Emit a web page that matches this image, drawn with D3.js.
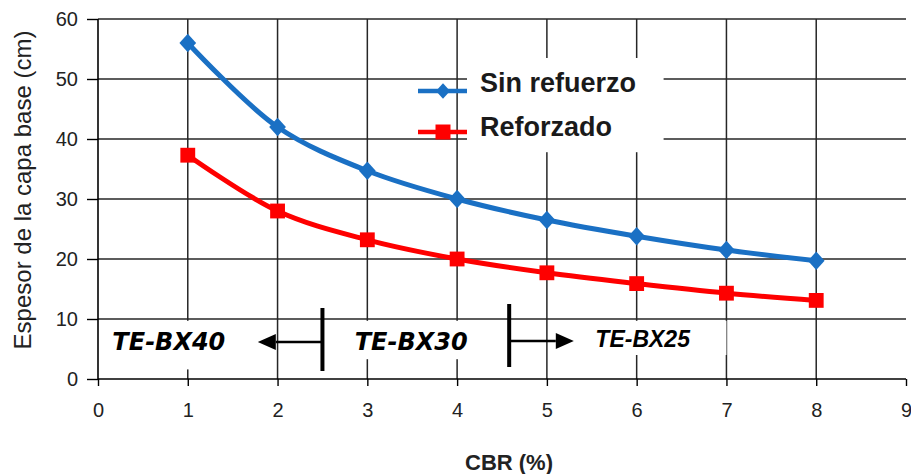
<!DOCTYPE html>
<html>
<head>
<meta charset="utf-8">
<script src="https://cdn.jsdelivr.net/npm/d3@7"></script>
<style>
  html, body { margin: 0; padding: 0; background: #fff; }
  svg { display: block; }
</style>
</head>
<body>
<svg id="chart" width="911" height="474"></svg>
<script>
// ---- data ----
const cbr = [1, 2, 3, 4, 5, 6, 7, 8];
const sinRefuerzo = [56, 42, 34.7, 30, 26.5, 23.8, 21.5, 19.7];
const reforzado = [37.3, 28, 23.2, 20, 17.7, 15.9, 14.3, 13.1];
const seriesNames = ["Sin refuerzo", "Reforzado"];
const xTicks = [0, 1, 2, 3, 4, 5, 6, 7, 8, 9];
const yTicks = [0, 10, 20, 30, 40, 50, 60];
const xTitle = "CBR (%)";
const yTitle = "Espesor de la capa base (cm)";
// geogrid zones (CBR limits between products)
const zoneLimits = [2.5, 4.58];
const zoneLabels = ["TE-BX40", "TE-BX30", "TE-BX25"];

// ---- setup ----
const svg = d3.select("#chart");
const x = d3.scaleLinear().domain([0, 9]).range([98, 906]);
const y = d3.scaleLinear().domain([0, 60]).range([379, 19]);
const blue = "#1a70c4", red = "#fe0000", gridC = "#262626";

// gridlines
const grid = svg.append("g");
grid.selectAll("line.h").data(yTicks.filter(d => d > 0)).join("line")
  .attr("x1", x(0)).attr("x2", x(9)).attr("y1", d => y(d)).attr("y2", d => y(d))
  .attr("stroke", gridC).attr("stroke-width", 1.5);
grid.selectAll("line.v").data(xTicks.filter(d => d > 0 && d < 9)).join("line")
  .attr("x1", d => x(d)).attr("x2", d => x(d)).attr("y1", y(60)).attr("y2", y(0))
  .attr("stroke", gridC).attr("stroke-width", 1.5);

// white boxes hiding gridlines (legend, zone labels)
const boxes = [
  {x0: 4.11, x1: 6.3, y0: 53.5, y1: 37.8},
  {x0: 0.08, x1: 1.48, y0: 9.7, y1: 1.6},
  {x0: 2.75, x1: 4.22, y0: 9.7, y1: 3.3},
  {x0: 5.5, x1: 7.0, y0: 9.7, y1: 4.0}
];
svg.append("g").selectAll("rect").data(boxes).join("rect")
  .attr("x", d => x(d.x0)).attr("y", d => y(d.y0))
  .attr("width", d => x(d.x1) - x(d.x0)).attr("height", d => y(d.y1) - y(d.y0))
  .attr("fill", "#fff");

// axes
const xAxis = svg.append("g").attr("transform", `translate(0,${y(0)})`)
  .call(d3.axisBottom(x).tickValues(xTicks).tickSize(7).tickPadding(17).tickFormat(d3.format("d")));
const yAxis = svg.append("g").attr("transform", `translate(${x(0)},0)`)
  .call(d3.axisLeft(y).tickValues(yTicks).tickSize(11).tickPadding(9).tickFormat(d3.format("d")));
[xAxis, yAxis].forEach(a => {
  a.select(".domain").attr("stroke", "#000").attr("stroke-width", 1.6);
  a.selectAll(".tick line").attr("stroke", "#000").attr("stroke-width", 1.4);
  a.selectAll(".tick text").attr("font-family", "Liberation Sans, Arial, sans-serif")
    .attr("font-size", 20).attr("fill", "#222");
});
xAxis.select(".domain").attr("d", `M${x(0)},0H${x(9)}`);
yAxis.select(".domain").attr("d", `M0,${y(0)}V${y(60)}`);

// titles
svg.append("text").attr("x", 509).attr("y", 470).attr("text-anchor", "middle")
  .attr("font-family", "Liberation Sans, Arial, sans-serif").attr("font-weight", "bold")
  .attr("font-size", 22).attr("fill", "#222").text(xTitle);
svg.append("text").attr("transform", "translate(31,190) rotate(-90)").attr("text-anchor", "middle")
  .attr("font-family", "Liberation Sans, Arial, sans-serif")
  .attr("font-size", 24).attr("fill", "#222").text(yTitle);

// series
const diamond = { draw(ctx, size) { const r = Math.sqrt(size) / 2;
  ctx.moveTo(0, -r * 1.1); ctx.lineTo(r, 0); ctx.lineTo(0, r * 1.1); ctx.lineTo(-r, 0); ctx.closePath(); } };
const series = [
  {name: seriesNames[0], values: sinRefuerzo, color: blue, sym: diamond, size: 280},
  {name: seriesNames[1], values: reforzado, color: red, sym: d3.symbolSquare, size: 220}
];
const line = d3.line().x(d => x(d[0])).y(d => y(d[1])).curve(d3.curveCatmullRom.alpha(0.5));
series.forEach(s => {
  const pts = cbr.map((c, i) => [c, s.values[i]]);
  svg.append("path").datum(pts).attr("d", line).attr("fill", "none")
    .attr("stroke", s.color).attr("stroke-width", 5).attr("stroke-linejoin", "round");
  svg.append("g").selectAll("path").data(pts).join("path")
    .attr("transform", d => `translate(${x(d[0])},${y(d[1])})`)
    .attr("d", d3.symbol().type(s.sym).size(s.size)).attr("fill", s.color);
});

// legend
const leg = svg.append("g");
series.forEach((s, i) => {
  const ly = [91, 132][i];
  leg.append("line").attr("x1", 418).attr("x2", 467).attr("y1", ly).attr("y2", ly)
    .attr("stroke", s.color).attr("stroke-width", 4.5);
  leg.append("path").attr("transform", `translate(443,${ly})`)
    .attr("d", d3.symbol().type(s.sym).size(i === 0 ? 200 : 225)).attr("fill", s.color);
  leg.append("text").attr("x", 480).attr("y", [92, 136][i])
    .attr("font-family", "Liberation Sans, Arial, sans-serif").attr("font-weight", "bold")
    .attr("font-size", 27).attr("fill", "#1a1a1a").text(s.name);
});

// zone annotations
const ann = svg.append("g");
// divider bars
ann.selectAll("line.bar").data(zoneLimits).join("line")
  .attr("x1", d => x(d)).attr("x2", d => x(d))
  .attr("y1", (d, i) => [308, 304][i]).attr("y2", (d, i) => [371, 367][i])
  .attr("stroke", "#000").attr("stroke-width", 4);
// arrows
const arrows = [{from: zoneLimits[0], to: 1.78, dir: -1}, {from: zoneLimits[1], to: 5.3, dir: 1}];
arrows.forEach((a, i) => {
  const yy = [342, 341][i];
  const tip = x(a.to), base = tip - a.dir * 18;
  ann.append("line").attr("x1", x(a.from)).attr("x2", base).attr("y1", yy).attr("y2", yy)
    .attr("stroke", "#000").attr("stroke-width", 2.6);
  ann.append("path").attr("d", `M${tip},${yy}L${base},${yy - 8}L${base},${yy + 8}Z`).attr("fill", "#000");
});
ann.selectAll("text").data(zoneLabels).join("text")
  .attr("x", (d, i) => [x(0.16), x(2.86), x(5.54)][i])
  .attr("y", (d, i) => [350, 350, 347][i])
  .attr("font-family", (d, i) => i < 2 ? "DejaVu Sans, sans-serif" : "Liberation Sans, Arial, sans-serif")
  .attr("font-weight", "bold").attr("font-style", "italic")
  .attr("font-size", (d, i) => i < 2 ? 24 : 23).attr("fill", "#000").text(d => d);
</script>
</body>
</html>
